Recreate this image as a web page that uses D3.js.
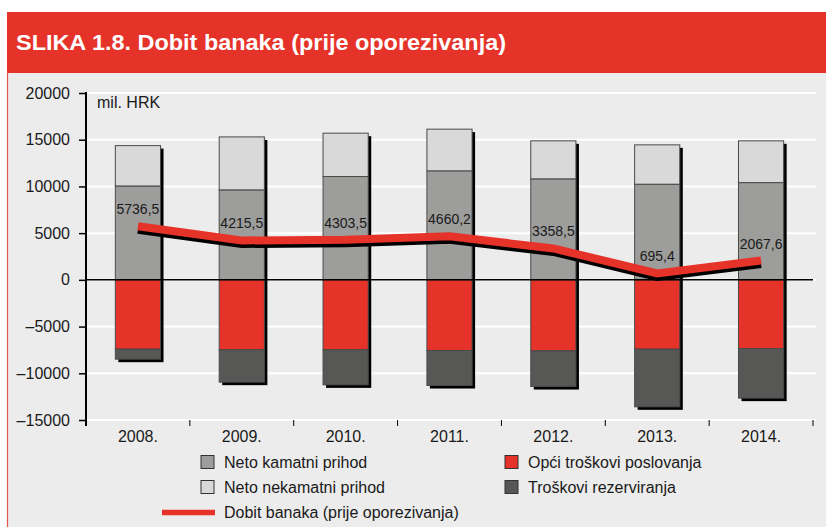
<!DOCTYPE html>
<html>
<head>
<meta charset="utf-8">
<script src="https://cdn.jsdelivr.net/npm/d3@7"></script>
<style>
  html, body { margin: 0; padding: 0; background: #ffffff; }
  svg { display: block; }
  text { font-family: "Liberation Sans", Arial, Helvetica, sans-serif; fill: #1a1a1a; }
</style>
</head>
<body>
<svg id="chart" width="826" height="527"></svg>
<script>
// ---- data ----
const years = ["2008.", "2009.", "2010.", "2011.", "2012.", "2013.", "2014."];
const netoKamatniPrihod   = [10050, 9630, 11060, 11670, 10810, 10240, 10410];
const netoNekamatniPrihod = [4320, 5670, 4640, 4460, 4070, 4210, 4470];
const opciTroskovi        = [-7420, -7490, -7490, -7560, -7600, -7420, -7350];
const troskoviRezerv      = [-1070, -3460, -3750, -3750, -3820, -6170, -5310];
const dobitBanaka         = [5736.5, 4215.5, 4303.5, 4660.2, 3358.5, 695.4, 2067.6];
const dobitLabels         = ["5736,5", "4215,5", "4303,5", "4660,2", "3358,5", "695,4", "2067,6"];
const yTicks              = [-15000, -10000, -5000, 0, 5000, 10000, 15000, 20000];
const seriesNames = {
  kamatni: "Neto kamatni prihod",
  nekamatni: "Neto nekamatni prihod",
  opci: "Opći troškovi poslovanja",
  rez: "Troškovi rezerviranja",
  dobit: "Dobit banaka (prije oporezivanja)"
};
const titleText = "SLIKA 1.8. Dobit banaka (prije oporezivanja)";
const unitText = "mil. HRK";

// ---- styles ----
const RED = "#e5332a";
const colors = { kamatni: "#9d9d9c", nekamatni: "#d9d9d9", opci: "#e5332a", rez: "#575756" };

const svg = d3.select("#chart");

// panel + header
svg.append("rect").attr("x", 7).attr("y", 73).attr("width", 819).attr("height", 454).attr("fill", "#ececec");
svg.append("line").attr("x1", 7.5).attr("x2", 7.5).attr("y1", 73).attr("y2", 527)
  .attr("stroke", "#e0574c").attr("stroke-width", 1.2);
svg.append("rect").attr("x", 7).attr("y", 12).attr("width", 819).attr("height", 61).attr("fill", RED);
svg.append("text").attr("x", 16).attr("y", 50)
  .attr("font-size", 22).attr("font-weight", "bold")
  .style("font-family", "'Liberation Sans Narrow', 'Liberation Sans', Arial, sans-serif")
  .style("fill", "#ffffff")
  .attr("textLength", 490).attr("lengthAdjust", "spacingAndGlyphs")
  .text(titleText);

// scales
const x0 = 86, x1 = 813;
const y = d3.scaleLinear().domain([-15000, 20000]).range([420, 93]);
const x = d3.scaleBand().domain(years).range([x0, x1]).paddingInner(0.565).paddingOuter(0.2825);

// gridlines
svg.append("g").selectAll("line").data(yTicks).join("line")
  .attr("x1", x0).attr("x2", 816)
  .attr("y1", d => y(d)).attr("y2", d => y(d))
  .attr("stroke", "#ffffff").attr("stroke-width", 2);

// y axis
const yAxis = d3.axisLeft(y).tickValues(yTicks).tickSize(7).tickSizeOuter(0).tickPadding(9)
  .tickFormat(d => d < 0 ? "\u2013" + Math.abs(d) : String(d));
const gy = svg.append("g").attr("transform", `translate(${x0},0)`).call(yAxis);
gy.select(".domain").remove();
gy.selectAll(".tick line").attr("stroke", "#000").attr("stroke-width", 1.5);
gy.selectAll(".tick text").attr("font-size", 16).style("font-family", "'Liberation Sans', Arial, sans-serif").style("fill", "#1a1a1a");
svg.append("line").attr("x1", x0).attr("x2", x0).attr("y1", 92).attr("y2", 426)
  .attr("stroke", "#000").attr("stroke-width", 2);

// x axis labels
const xAxis = d3.axisBottom(x).tickSize(0).tickPadding(11);
const gx = svg.append("g").attr("transform", `translate(0,${y(-15000)})`).call(xAxis);
gx.select(".domain").remove();
gx.selectAll(".tick text").attr("font-size", 16).style("font-family", "'Liberation Sans', Arial, sans-serif").style("fill", "#1a1a1a");
// boundary ticks
const bounds = years.map((d, i) => x0 + (i + 1) * x.step());
svg.append("g").selectAll("line").data(bounds).join("line")
  .attr("x1", d => d).attr("x2", d => d)
  .attr("y1", y(-15000)).attr("y2", y(-15000) + 6)
  .attr("stroke", "#000").attr("stroke-width", 1);

// stacked data
const table = years.map((yr, i) => ({
  year: yr,
  kamatni: netoKamatniPrihod[i],
  nekamatni: netoNekamatniPrihod[i],
  opci: opciTroskovi[i],
  rez: troskoviRezerv[i]
}));
const keys = ["kamatni", "nekamatni", "opci", "rez"];
const stacked = d3.stack().keys(keys).offset(d3.stackOffsetDiverging)(table);

// shadows
svg.append("g").selectAll("rect").data(table).join("rect")
  .attr("x", d => x(d.year) + 3)
  .attr("y", d => y(d.kamatni + d.nekamatni) + 3)
  .attr("width", x.bandwidth())
  .attr("height", d => y(d.opci + d.rez) - y(d.kamatni + d.nekamatni))
  .attr("fill", "#000");

// bars
svg.append("g").selectAll("g").data(stacked).join("g")
  .attr("fill", s => colors[s.key])
  .selectAll("rect").data(s => s).join("rect")
  .attr("x", d => x(d.data.year))
  .attr("y", d => y(Math.max(d[0], d[1])))
  .attr("width", x.bandwidth())
  .attr("height", d => Math.abs(y(d[0]) - y(d[1])))
  .attr("stroke", "#4a4a4a").attr("stroke-width", 1);

// zero line
svg.append("line").attr("x1", x0).attr("x2", x1).attr("y1", y(0)).attr("y2", y(0))
  .attr("stroke", "#000").attr("stroke-width", 1.5);

// profit line
const line = d3.line().x((d, i) => x(years[i]) + x.bandwidth() / 2).y(d => y(d));
svg.append("path").datum(dobitBanaka).attr("d", line)
  .attr("transform", "translate(0,3.5)")
  .attr("fill", "none").attr("stroke", "#000").attr("stroke-width", 8)
  .attr("stroke-linejoin", "miter").attr("stroke-linecap", "butt");
svg.append("path").datum(dobitBanaka).attr("d", line)
  .attr("fill", "none").attr("stroke", RED).attr("stroke-width", 8)
  .attr("stroke-linejoin", "miter").attr("stroke-linecap", "butt");

// value labels
svg.append("g").selectAll("text").data(dobitBanaka).join("text")
  .attr("x", (d, i) => x(years[i]) + x.bandwidth() / 2)
  .attr("y", d => y(d) - 12)
  .attr("text-anchor", "middle")
  .attr("font-size", 14)
  .style("fill", "#1a1a1a")
  .text((d, i) => dobitLabels[i]);

// unit
svg.append("text").attr("x", 97).attr("y", 108).attr("font-size", 16).text(unitText);

// legend
const legendItems = [
  { key: "kamatni", x: 201, y: 462 },
  { key: "nekamatni", x: 201, y: 487 },
  { key: "opci", x: 505, y: 462 },
  { key: "rez", x: 505, y: 487 }
];
const lg = svg.append("g");
legendItems.forEach(it => {
  lg.append("rect").attr("x", it.x).attr("y", it.y - 6.5).attr("width", 13).attr("height", 13)
    .attr("fill", colors[it.key]).attr("stroke", "#333").attr("stroke-width", 1);
  lg.append("text").attr("x", it.x + 23).attr("y", it.y + 5.5).attr("font-size", 16).text(seriesNames[it.key]);
});
lg.append("line").attr("x1", 162).attr("x2", 215).attr("y1", 512.5).attr("y2", 512.5)
  .attr("stroke", RED).attr("stroke-width", 5.5);
lg.append("text").attr("x", 224).attr("y", 518).attr("font-size", 16).text(seriesNames.dobit);
</script>
</body>
</html>
